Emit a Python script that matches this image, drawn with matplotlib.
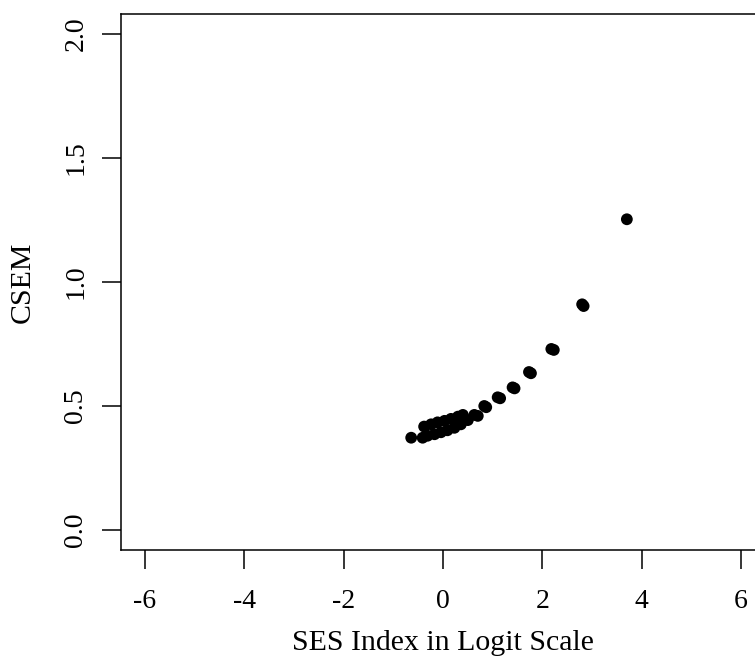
import matplotlib
matplotlib.use("Agg")
import matplotlib.pyplot as plt

# SES index (logit) and CSEM
ses = [-0.64, -0.41, -0.31, -0.17, -0.04, 0.09, 0.23, 0.36, 0.50, 0.63,
       -0.38, -0.24, -0.11, 0.03, 0.16, 0.30, 0.40,
       0.70, 0.83, 0.87, 1.10, 1.15, 1.40, 1.44, 1.73, 1.77,
       2.18, 2.23, 2.80, 2.83, 3.70]
csem = [0.372, 0.372, 0.380, 0.386, 0.394, 0.402, 0.412, 0.426, 0.443, 0.464,
        0.417, 0.426, 0.434, 0.440, 0.448, 0.457, 0.464,
        0.460, 0.500, 0.495, 0.535, 0.531, 0.575, 0.571, 0.637, 0.632,
        0.730, 0.726, 0.910, 0.903, 1.253]

xticks = [-6, -4, -2, 0, 2, 4, 6]
yticks = [0.0, 0.5, 1.0, 1.5, 2.0]

plt.rcParams["font.family"] = ["Liberation Serif", "DejaVu Serif"]
plt.rcParams["font.size"] = 20

W, H = 755, 657
fig = plt.figure(figsize=(W / 100, H / 100), dpi=100)
ax = fig.add_axes([121 / W, (H - 549.8) / H, 644 / W, 535.6 / H])

ax.scatter(ses, csem, s=72, color="black", edgecolors="none", clip_on=False)

ax.set_xlim(-6.48, 6.48)
ax.set_ylim(-0.08, 2.08)
ax.set_xticks(xticks)
ax.set_xticklabels([str(t) for t in xticks])
ax.set_yticks(yticks)
ax.set_yticklabels([f"{t:.1f}" for t in yticks], rotation=90, va="center")

for s in ax.spines.values():
    s.set_linewidth(1.1)
ax.tick_params(length=13.5, width=1.1, direction="out", labelsize=20)
ax.tick_params(axis="x", pad=15)
ax.tick_params(axis="y", pad=10)

ax.set_xlabel("SES Index in Logit Scale", fontsize=21.5, labelpad=11)
ax.set_ylabel("CSEM", fontsize=21.5, labelpad=20)

fig.savefig("out.png", dpi=100)
